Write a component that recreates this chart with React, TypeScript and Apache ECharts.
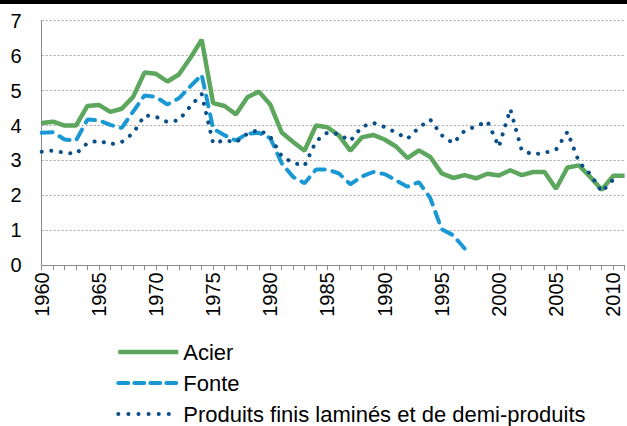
import React, { useEffect, useRef } from "react";
import * as echarts from "echarts";

const years = [
  "1960", "1961", "1962", "1963", "1964", "1965", "1966", "1967", "1968", "1969",
  "1970", "1971", "1972", "1973", "1974", "1975", "1976", "1977", "1978", "1979",
  "1980", "1981", "1982", "1983", "1984", "1985", "1986", "1987", "1988", "1989",
  "1990", "1991", "1992", "1993", "1994", "1995", "1996", "1997", "1998", "1999",
  "2000", "2001", "2002", "2003", "2004", "2005", "2006", "2007", "2008", "2009",
  "2010", "2011",
];

const acier = [
  4.07, 4.11, 4.0, 4.0, 4.56, 4.59, 4.39, 4.48, 4.82, 5.52,
  5.48, 5.26, 5.46, 5.93, 6.46, 4.64, 4.56, 4.32, 4.81, 4.97,
  4.6, 3.8, 3.53, 3.28, 4.0, 3.95, 3.72, 3.28, 3.66, 3.73,
  3.6, 3.4, 3.07, 3.29, 3.1, 2.63, 2.5, 2.58, 2.49, 2.62,
  2.57, 2.72, 2.58, 2.67, 2.67, 2.19, 2.8, 2.86, 2.53, 2.16,
  2.56, 2.56,
];

const fonte = [
  3.79, 3.81, 3.6, 3.57, 4.17, 4.15, 4.02, 3.93, 4.4, 4.86,
  4.82, 4.6, 4.78, 5.12, 5.45, 3.91, 3.72, 3.57, 3.77, 3.79,
  3.64, 2.92, 2.53, 2.35, 2.74, 2.74, 2.63, 2.32, 2.54, 2.67,
  2.61, 2.43, 2.25, 2.38, 1.92, 1.03, 0.86, 0.48, null, null,
  null, null, null, null, null, null, null, null, null, null,
  null, null,
];

const produits = [
  3.25, 3.28, 3.22, 3.19, 3.5, 3.57, 3.46, 3.53, 3.78, 4.29,
  4.25, 4.1, 4.15, 4.55, 4.9, 3.49, 3.58, 3.52, 3.77, 3.88,
  3.68, 3.12, 2.93, 2.85, 3.55, 3.8, 3.75, 3.56, 3.96, 4.08,
  3.96, 3.8, 3.62, 3.94, 4.17, 3.72, 3.49, 3.85, 3.98, 4.12,
  3.39, 4.47, 3.29, 3.17, 3.22, 3.31, 3.82, 2.96, 2.61, 2.1,
  2.45, null,
];

const seriesNames = ["Acier", "Fonte", "Produits finis laminés et de demi-produits"];

const FONT = "'Liberation Sans', Arial, sans-serif";

const GREEN = "#5da65e";
const BLUE = "#1a98d4";
const NAVY = "#0b4f88";

export default function App() {
  const ref = useRef<HTMLDivElement>(null);

  useEffect(() => {
    if (!ref.current) return;
    const chart = echarts.init(ref.current, null, { renderer: "svg" });
    chart.setOption({
      animation: false,
      backgroundColor: "#ffffff",
      textStyle: { fontFamily: FONT },
      graphic: [
        {
          type: "rect",
          left: 0,
          top: 0,
          shape: { width: 627, height: 4 },
          style: { fill: "#000000" },
        },
      ],
      grid: { left: 41.7, right: 2.4, top: 20.7, bottom: 160.7, containLabel: false },
      legend: {
        orient: "vertical",
        left: 116,
        top: 341,
        height: 100,
        itemWidth: 60,
        itemHeight: 18,
        itemGap: 9,
        padding: 0,
        data: [
          { name: seriesNames[0], lineStyle: { width: 4.5, color: GREEN } },
          { name: seriesNames[1], lineStyle: { width: 4, color: BLUE, type: [10, 6], cap: "round" } },
          { name: seriesNames[2], lineStyle: { width: 4, color: NAVY, type: [0.1, 10], cap: "round" } },
        ],
        itemStyle: { opacity: 0 },
        textStyle: { fontSize: 22, color: "#000", fontFamily: FONT },
      },
      xAxis: {
        type: "category",
        data: years,
        boundaryGap: false,
        axisLine: { show: true, lineStyle: { color: "#8c8c8c", width: 1 } },
        axisTick: { show: true, interval: 0, length: 5, lineStyle: { color: "#8c8c8c" } },
        axisLabel: {
          interval: 4,
          rotate: 90,
          fontSize: 20,
          color: "#000",
          margin: 7,
          fontFamily: FONT,
        },
        splitLine: { show: false },
      },
      yAxis: {
        type: "value",
        min: 0,
        max: 7,
        interval: 1,
        axisLine: { show: true, lineStyle: { color: "#8c8c8c", width: 1 } },
        axisTick: { show: false },
        axisLabel: { fontSize: 20, color: "#000", margin: 20, fontFamily: FONT },
        splitLine: { show: true, lineStyle: { color: "#a6a6a6", type: [2, 2], width: 1 } },
      },
      series: [
        {
          name: seriesNames[0],
          type: "line",
          data: acier,
          symbol: "none",
          lineStyle: { color: GREEN, width: 4.5 },
          itemStyle: { color: GREEN },
        },
        {
          name: seriesNames[1],
          type: "line",
          data: fonte,
          symbol: "none",
          connectNulls: false,
          lineStyle: { color: BLUE, width: 4, type: [11, 8], cap: "round" },
          itemStyle: { color: BLUE },
        },
        {
          name: seriesNames[2],
          type: "line",
          data: produits,
          symbol: "none",
          lineStyle: { color: NAVY, width: 4, type: [0.1, 9.5], cap: "round" },
          itemStyle: { color: NAVY },
        },
      ],
    });
    return () => chart.dispose();
  }, []);

  return (
    <div
      ref={ref}
      style={{ position: "fixed", left: 0, top: 0, width: 627, height: 426, background: "#fff" }}
    />
  );
}
